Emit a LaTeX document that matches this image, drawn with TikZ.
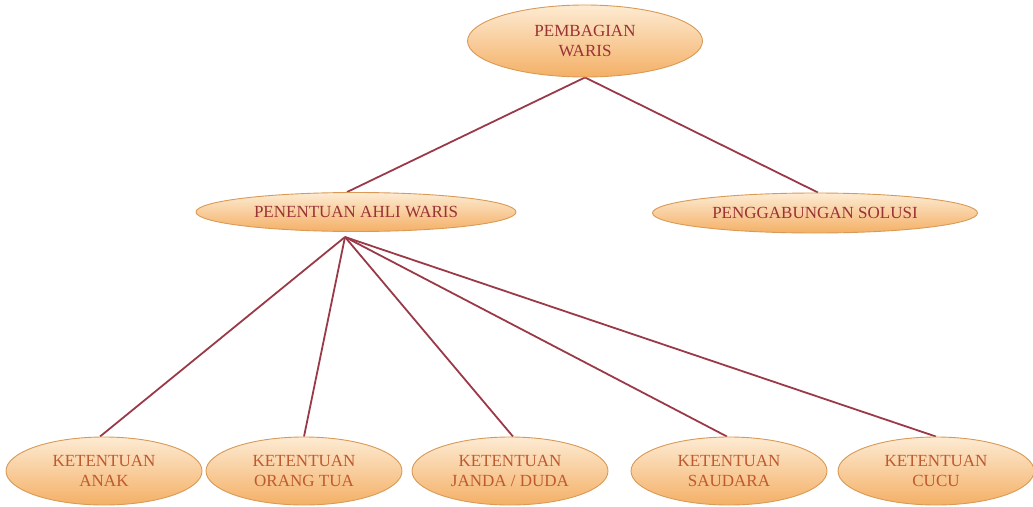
\documentclass[tikz,border=0pt]{standalone}
\usepackage{fontspec}
\setmainfont{Liberation Serif}
\usetikzlibrary{shapes.geometric,backgrounds}
\definecolor{linkred}{HTML}{9A3A48}
\definecolor{bubbletop}{HTML}{FDEBD3}
\definecolor{bubblebot}{HTML}{F4B066}
\definecolor{bubbleedge}{HTML}{D99A55}
\definecolor{headtext}{HTML}{9A3236}
\definecolor{leaftext}{HTML}{BE5A2E}
\tikzset{
  x=1pt, y=-1pt,
  bubble/.style={ellipse, draw=bubbleedge, line width=0.9pt,
    top color=bubbletop, bottom color=bubblebot, inner sep=0pt,
    align=center, font=\fontsize{17}{20}\selectfont},
  headnode/.style={bubble, text=headtext},
  leafnode/.style={bubble, text=leaftext, minimum width=196, minimum height=68},
  link/.style={draw=linkred, line width=1.8pt}
}
\begin{document}
\begin{tikzpicture}
\useasboundingbox (0,0) rectangle (1033,506);
% root and second level
\node[headnode, minimum width=235, minimum height=72] (root) at (585,41) {PEMBAGIAN\\WARIS};
\node[headnode, minimum width=320, minimum height=39] (heirs) at (356,212) {PENENTUAN AHLI WARIS};
\node[headnode, minimum width=325, minimum height=40] (merge) at (815,213) {PENGGABUNGAN SOLUSI};
% leaves
\node[leafnode] (anak)   at (104,471) {KETENTUAN\\ANAK};
\node[leafnode] (ortu)   at (304,471) {KETENTUAN\\ORANG TUA};
\node[leafnode] (janda)  at (510,471) {KETENTUAN\\JANDA / DUDA};
\node[leafnode] (saudara) at (729,471) {KETENTUAN\\SAUDARA};
\node[leafnode] (cucu)   at (936,471) {KETENTUAN\\CUCU};
% connectors behind the bubbles
\coordinate (hub) at (345,237);
\begin{pgfonlayer}{background}
  \draw[link] (root.south) -- ([xshift=-9]heirs.north);
  \draw[link] (root.south) -- ([xshift=3]merge.north);
  \draw[link] (hub) -- ([xshift=-4]anak.north);
  \draw[link] (hub) -- (ortu.north);
  \draw[link] (hub) -- ([xshift=3]janda.north);
  \draw[link] (hub) -- ([xshift=-2]saudara.north);
  \draw[link] (hub) -- (cucu.north);
\end{pgfonlayer}
\end{tikzpicture}
\end{document}
